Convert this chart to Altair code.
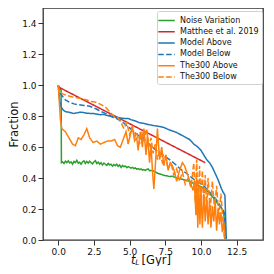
import altair as alt
import pandas as pd

# ---------------- data ----------------
series_names = ["Noise Variation", "Matthee et al. 2019", "Model Above",
                "Model Below", "The300 Above", "The300 Below"]
series_colors = ["#2ca02c", "#d62728", "#1f77b4", "#1f77b4", "#ff7f0e", "#ff7f0e"]
series_dashes = [[1, 0], [1, 0], [1, 0], [5.5, 2.4], [1, 0], [5.5, 2.4]]

noise_t = [0.0, 0.2, 0.22, 0.3, 0.4, 0.5, 0.6, 0.7, 0.8, 0.9, 1.0, 1.1, 1.2, 1.3, 1.4,
           1.5, 1.6, 1.7, 1.8, 1.9, 2.0, 2.1, 2.2, 2.3, 2.4, 2.5, 2.6, 2.7, 2.8, 2.9,
           3.0, 3.1, 3.2, 3.3, 3.4, 3.5, 3.6, 3.7, 3.8, 3.9, 4.0, 4.1, 4.2, 4.3, 4.4,
           4.5, 4.6, 4.7, 4.8, 4.9, 5.0, 5.1, 5.2, 5.3, 5.4, 5.5, 5.6, 5.7, 5.8, 5.9,
           6.0, 6.1, 6.2, 6.3, 6.4, 6.6, 6.8, 7.0, 7.2, 7.4, 7.6, 7.8, 8.0, 8.2, 8.4,
           8.6, 8.8, 9.0, 9.2, 9.4, 9.6, 9.8, 10.0, 10.2, 10.4, 10.6, 10.8, 11.0, 11.2,
           11.4, 11.6, 11.7]
noise_f = [1.0, 0.97, 0.50, 0.505, 0.495, 0.51, 0.50, 0.512, 0.498, 0.505, 0.49, 0.508,
           0.50, 0.515, 0.497, 0.503, 0.49, 0.505, 0.512, 0.495, 0.508, 0.497, 0.51,
           0.50, 0.492, 0.505, 0.513, 0.495, 0.503, 0.49, 0.50, 0.485, 0.497, 0.49,
           0.482, 0.495, 0.485, 0.49, 0.478, 0.488, 0.48, 0.49, 0.476, 0.485, 0.47,
           0.482, 0.474, 0.478, 0.468, 0.475, 0.47, 0.465, 0.47, 0.462, 0.466, 0.458,
           0.462, 0.455, 0.46, 0.452, 0.455, 0.45, 0.456, 0.46, 0.448, 0.45, 0.44,
           0.43, 0.425, 0.418, 0.415, 0.41, 0.412, 0.405, 0.40, 0.395, 0.39, 0.385,
           0.38, 0.37, 0.36, 0.352, 0.345, 0.335, 0.32, 0.30, 0.28, 0.26, 0.23, 0.21,
           0.185, 0.0]

matthee_t = [0.0, 10.3]
matthee_f = [0.99, 0.50]

above_t = [0.0, 0.05, 0.1, 0.2, 0.35, 0.5, 0.8, 1.05, 1.3, 1.5, 1.75, 2.0, 2.25, 2.45,
           2.7, 2.95, 3.2, 3.4, 3.7, 4.0, 4.3, 4.6, 4.9, 5.1, 5.4, 5.7, 6.0, 6.4, 6.8,
           7.1, 7.4, 7.7, 8.0, 8.3, 8.6, 8.9, 9.2, 9.5, 9.8, 10.0, 10.2, 10.4, 10.6,
           10.8, 11.0, 11.2, 11.4, 11.55, 11.68, 11.78]
above_f = [1.0, 0.95, 0.90, 0.86, 0.84, 0.83, 0.825, 0.818, 0.822, 0.826, 0.825, 0.82,
           0.818, 0.818, 0.814, 0.81, 0.812, 0.806, 0.80, 0.795, 0.79, 0.786, 0.786,
           0.778, 0.77, 0.758, 0.754, 0.745, 0.738, 0.734, 0.728, 0.715, 0.705, 0.695,
           0.68, 0.665, 0.65, 0.62, 0.60, 0.58, 0.55, 0.52, 0.50, 0.47, 0.43, 0.39,
           0.34, 0.31, 0.29, 0.0]

below_t = [0.0, 0.1, 0.25, 0.5, 0.8, 1.1, 1.4, 1.8, 2.2, 2.6, 3.0, 3.4, 3.8, 4.2, 4.6,
           5.0, 5.4, 5.8, 6.2, 6.6, 7.0, 7.4, 7.8, 8.2, 8.6, 9.0, 9.4, 9.8, 10.2, 10.6,
           11.0, 11.3, 11.55, 11.65, 11.72]
below_f = [1.0, 0.95, 0.935, 0.905, 0.89, 0.88, 0.875, 0.87, 0.865, 0.85, 0.83, 0.815,
           0.795, 0.78, 0.755, 0.725, 0.69, 0.665, 0.635, 0.60, 0.57, 0.545, 0.52, 0.49,
           0.455, 0.43, 0.40, 0.375, 0.35, 0.31, 0.27, 0.23, 0.19, 0.17, 0.0]

t300a_t = [0.0, 0.15, 0.25, 0.5, 0.75, 1.0, 1.2, 1.4, 1.6, 1.8, 2.0, 2.2, 2.45, 2.7,
           2.95, 3.2, 3.45, 3.7, 3.95, 4.15, 4.35, 4.55, 4.75, 4.9, 5.05, 5.2, 5.35,
           5.5, 5.6, 5.75, 5.9, 6.0, 6.15, 6.25, 6.4, 6.5, 6.6, 6.7, 6.85, 6.95, 7.1,
           7.25, 7.4, 7.55, 7.7, 7.85, 8.0, 8.15, 8.3, 8.5, 8.7, 8.85, 9.0, 9.15, 9.3,
           9.45, 9.55, 9.65, 9.7, 9.78, 9.85, 9.93, 10.0, 10.1, 10.2, 10.3, 10.4, 10.5,
           10.6, 10.7, 10.8, 10.9, 11.0, 11.1, 11.2, 11.3, 11.4, 11.5, 11.6, 11.7,
           12.5, 13.7]
t300a_f = [1.0, 0.78, 0.72, 0.70, 0.66, 0.62, 0.61, 0.66, 0.65, 0.68, 0.72, 0.66, 0.63,
           0.64, 0.62, 0.63, 0.64, 0.64, 0.65, 0.61, 0.60, 0.65, 0.70, 0.62, 0.68, 0.73,
           0.64, 0.66, 0.58, 0.70, 0.60, 0.72, 0.55, 0.68, 0.50, 0.62, 0.45, 0.33, 0.55,
           0.72, 0.52, 0.60, 0.48, 0.55, 0.45, 0.50, 0.48, 0.44, 0.38, 0.45, 0.50, 0.48,
           0.44, 0.40, 0.36, 0.32, 0.38, 0.16, 0.40, 0.08, 0.35, 0.10, 0.32, 0.08, 0.30,
           0.12, 0.28, 0.10, 0.25, 0.08, 0.22, 0.12, 0.25, 0.06, 0.20, 0.10, 0.18, 0.05,
           0.12, 0.0, 0.0, 0.0]

t300b_t = [0.0, 0.1, 0.3, 0.6, 1.0, 1.3, 1.6, 2.0, 2.3, 2.7, 3.0, 3.3, 3.6, 3.9, 4.2,
           4.4, 4.6, 4.8, 5.0, 5.2, 5.35, 5.5, 5.7, 5.85, 6.0, 6.2, 6.35, 6.5, 6.65,
           6.8, 6.95, 7.1, 7.3, 7.5, 7.7, 7.9, 8.1, 8.3, 8.5, 8.7, 8.9, 9.1, 9.3, 9.5,
           9.6, 9.7, 9.8, 9.9, 10.0, 10.1, 10.2, 10.3, 10.4, 10.5, 10.65, 10.8, 10.95,
           11.1, 11.25, 11.4, 11.55, 11.65]
t300b_f = [1.0, 0.96, 0.945, 0.935, 0.925, 0.92, 0.915, 0.905, 0.895, 0.89, 0.875, 0.86,
           0.83, 0.80, 0.79, 0.76, 0.72, 0.76, 0.68, 0.74, 0.66, 0.70, 0.62, 0.70, 0.64,
           0.72, 0.60, 0.66, 0.56, 0.62, 0.52, 0.58, 0.50, 0.54, 0.46, 0.50, 0.42, 0.46,
           0.38, 0.44, 0.36, 0.40, 0.34, 0.50, 0.24, 0.52, 0.22, 0.48, 0.25, 0.45, 0.22,
           0.42, 0.20, 0.40, 0.18, 0.38, 0.20, 0.35, 0.15, 0.30, 0.12, 0.0]

x_ticks = [0.0, 2.5, 5.0, 7.5, 10.0, 12.5]
y_ticks = [0.0, 0.2, 0.4, 0.6, 0.8, 1.0, 1.2, 1.4]

# ---------------- build table ----------------
all_t = [noise_t, matthee_t, above_t, below_t, t300a_t, t300b_t]
all_f = [noise_f, matthee_f, above_f, below_f, t300a_f, t300b_f]
rows = []
for name, ts, fs in zip(series_names, all_t, all_f):
    for i, (t, f) in enumerate(zip(ts, fs)):
        rows.append({"series": name, "t": t, "f": f, "i": i})
df = pd.DataFrame(rows)

FONT = "DejaVu Sans"

legend = alt.Legend(title=None, orient="none", legendX=114, legendY=3,
                    fillColor="white", strokeColor="#d0d0d0", cornerRadius=2,
                    padding=3, labelFont=FONT, labelFontSize=8, labelColor="#111",
                    symbolType="M-1.5,0L1.5,0", symbolSize=121,
                    symbolStrokeWidth=1.5, labelOffset=7, rowPadding=0.3)

lines = alt.Chart(df).mark_line(strokeWidth=1.5, clip=True).encode(
    x=alt.X("t:Q", scale=alt.Scale(domain=[-1.07, 14.35], nice=False, zero=False),
            axis=alt.Axis(values=x_ticks, format=".1f", title=None, labelPadding=2)),
    y=alt.Y("f:Q", scale=alt.Scale(domain=[0, 1.5], nice=False),
            axis=alt.Axis(values=y_ticks, format=".1f", title="Fraction",
                          labelPadding=2, titlePadding=2)),
    color=alt.Color("series:N", sort=series_names,
                    scale=alt.Scale(domain=series_names, range=series_colors),
                    legend=legend),
    strokeDash=alt.StrokeDash("series:N", sort=series_names,
                              scale=alt.Scale(domain=series_names, range=series_dashes),
                              legend=legend),
    detail="series:N",
    order="i:Q",
)

dummy = pd.DataFrame({"a": [0]})
t_main = alt.Chart(dummy).mark_text(font=FONT, fontSize=11.5, fontStyle="italic",
                                    align="left", baseline="alphabetic", color="#111").encode(
    x=alt.value(88), y=alt.value(255.5), text=alt.value("t"))
t_sub = alt.Chart(dummy).mark_text(font=FONT, fontSize=7.5, fontStyle="italic",
                                   align="left", baseline="alphabetic", color="#111").encode(
    x=alt.value(92.3), y=alt.value(256.5), text=alt.value("L"))
t_unit = alt.Chart(dummy).mark_text(font=FONT, fontSize=11.5,
                                    align="left", baseline="alphabetic", color="#111").encode(
    x=alt.value(98.5), y=alt.value(255.5), text=alt.value("[Gyr]"))

chart = alt.layer(lines, t_main, t_sub, t_unit).properties(
    width=220, height=232,
    autosize=alt.AutoSizeParams(type="none"),
    padding={"left": 35, "top": 0, "right": 1, "bottom": 26},
).configure_view(
    stroke="#333", strokeWidth=1.3
).configure_axis(
    domain=False, grid=False, tickColor="#333", tickSize=5, tickWidth=1,
    labelFont=FONT, labelFontSize=9, labelColor="#111",
    titleFont=FONT, titleFontSize=11.5, titleFontWeight="normal", titleColor="#111",
)

chart.save("out.html", embed_options={"renderer": "svg", "actions": False})
